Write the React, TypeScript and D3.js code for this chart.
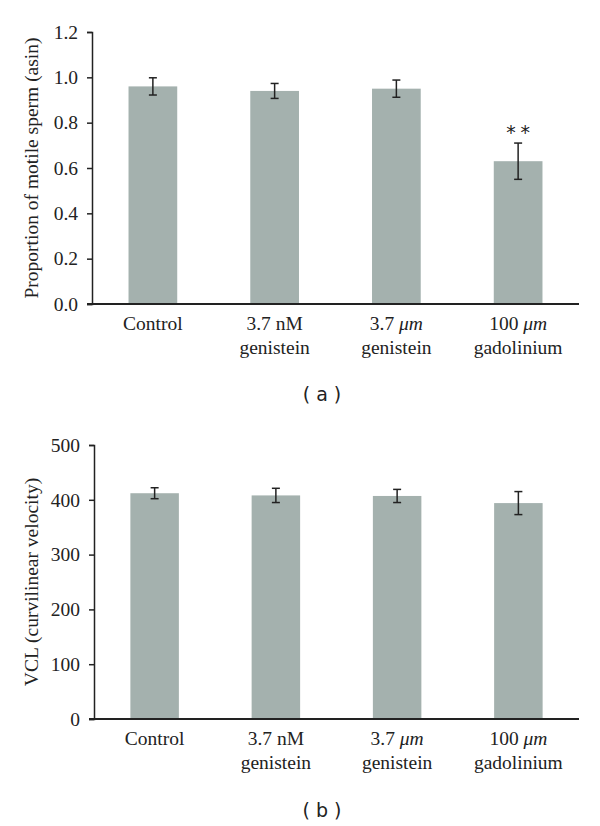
import { useEffect, useRef } from "react";
import * as d3 from "d3";

// group labels, two lines each (italic parts marked with *)
const groupLine1 = ["Control", "3.7 nM", "3.7 *μm*", "100 *μm*"];
const groupLine2 = ["", "genistein", "genistein", "gadolinium"];

// panel (a) proportion of motile sperm
const motileMeans = [0.96, 0.94, 0.95, 0.63];
const motileErrors = [0.038, 0.033, 0.038, 0.08];
const motileTicks = [0, 0.2, 0.4, 0.6, 0.8, 1.0, 1.2];
const motileStars = ["", "", "", "**"];

// panel (b) VCL
const vclMeans = [412, 408, 407, 394];
const vclErrors = [10, 13, 12, 21];
const vclTicks = [0, 100, 200, 300, 400, 500];

const BAR_COLOR = "#a4b1ae";
const INK = "#222";
const SERIF = "'Liberation Serif', 'DejaVu Serif', serif";
const FS = 19.5;

function drawPanel(svg, opts) {
    const { left, right, top, bottom, domain, ticks, fmt, means, errors, stars, yTitle, titleY, labelY, caption, captionY } = opts;
    const g = svg.append("g");
    const ids = groupLine1.map((_, i) => i);

    const x = d3.scaleBand()
        .domain(ids)
        .range([left, right])
        .paddingInner(0.6)
        .paddingOuter(0.3);

    const y = d3.scaleLinear().domain(domain).range([bottom, top]);

    // bars
    g.selectAll(".bar")
        .data(ids)
        .join("rect")
        .attr("x", i => x(i))
        .attr("y", i => y(means[i]))
        .attr("width", x.bandwidth())
        .attr("height", i => bottom - y(means[i]))
        .attr("fill", BAR_COLOR);

    // error bars
    const cap = 4;
    ids.forEach(i => {
        const cx = x(i) + x.bandwidth() / 2;
        const hi = y(means[i] + errors[i]);
        const lo = y(means[i] - errors[i]);
        const eb = g.append("g").attr("stroke", INK).attr("stroke-width", 1.5);
        eb.append("line").attr("x1", cx).attr("x2", cx).attr("y1", hi).attr("y2", lo);
        eb.append("line").attr("x1", cx - cap).attr("x2", cx + cap).attr("y1", hi).attr("y2", hi);
        eb.append("line").attr("x1", cx - cap).attr("x2", cx + cap).attr("y1", lo).attr("y2", lo);
        if (stars && stars[i]) {
            g.append("text")
                .attr("x", cx + 1.5)
                .attr("y", hi - 4)
                .attr("text-anchor", "middle")
                .attr("font-family", "'DejaVu Sans Mono', monospace")
                .attr("font-size", 19)
                .attr("letter-spacing", 3)
                .attr("fill", INK)
                .text(stars[i]);
        }
    });

    // y axis
    const yAxis = g.append("g")
        .attr("transform", `translate(${left},0)`)
        .call(d3.axisLeft(y).tickValues(ticks).tickFormat(fmt).tickSize(5).tickPadding(9));
    yAxis.select(".domain").attr("stroke", INK).attr("stroke-width", 1.5);
    yAxis.selectAll(".tick line").attr("stroke", INK).attr("stroke-width", 1.5);
    yAxis.selectAll(".tick text")
        .attr("font-family", SERIF)
        .attr("font-size", FS)
        .attr("fill", "#222");

    // x axis line
    g.append("line")
        .attr("x1", left - 5).attr("x2", right)
        .attr("y1", bottom).attr("y2", bottom)
        .attr("stroke", INK).attr("stroke-width", 2);

    // group labels
    ids.forEach(i => {
        const cx = x(i) + x.bandwidth() / 2;
        const t1 = g.append("text")
            .attr("x", cx).attr("y", labelY)
            .attr("text-anchor", "middle")
            .attr("font-family", SERIF)
            .attr("font-size", FS)
            .attr("fill", "#222");
        groupLine1[i].split("*").forEach((part, k) => {
            if (!part) return;
            t1.append("tspan").attr("font-style", k % 2 ? "italic" : "normal").text(part);
        });
        if (groupLine2[i]) {
            g.append("text")
                .attr("x", cx).attr("y", labelY + 24)
                .attr("text-anchor", "middle")
                .attr("font-family", SERIF)
                .attr("font-size", FS)
                .attr("fill", "#222")
                .text(groupLine2[i]);
        }
    });

    // y title
    g.append("text")
        .attr("transform", `translate(38,${titleY}) rotate(-90)`)
        .attr("text-anchor", "middle")
        .attr("font-family", SERIF)
        .attr("font-size", FS)
        .attr("fill", "#222")
        .text(yTitle);

    // caption
    g.append("text")
        .attr("x", 322).attr("y", captionY)
        .attr("text-anchor", "middle")
        .attr("font-family", "'DejaVu Sans', sans-serif")
        .attr("font-size", 19)
        .attr("fill", "#222")
        .attr("xml:space", "preserve")
        .text(caption);
}

export default function App() {
    const svgRef = useRef(null);

    useEffect(() => {
        const svg = d3.select(svgRef.current);
        svg.selectAll("*").remove();

        drawPanel(svg, {
            left: 92, right: 579, top: 32, bottom: 304,
            domain: [0, 1.2], ticks: motileTicks, fmt: d3.format(".1f"),
            means: motileMeans, errors: motileErrors, stars: motileStars,
            yTitle: "Proportion of motile sperm (asin)", titleY: 168,
            labelY: 330, caption: "( a )", captionY: 401,
        });

        drawPanel(svg, {
            left: 94, right: 579, top: 445, bottom: 719,
            domain: [0, 500], ticks: vclTicks, fmt: d3.format("d"),
            means: vclMeans, errors: vclErrors, stars: null,
            yTitle: "VCL (curvilinear velocity)", titleY: 582,
            labelY: 745, caption: "( b )", captionY: 817,
        });
    }, []);

    return (
        <svg
            ref={svgRef}
            width={600}
            height={826}
            style={{ position: "absolute", left: 0, top: 0, background: "#fff" }}
        />
    );
}
